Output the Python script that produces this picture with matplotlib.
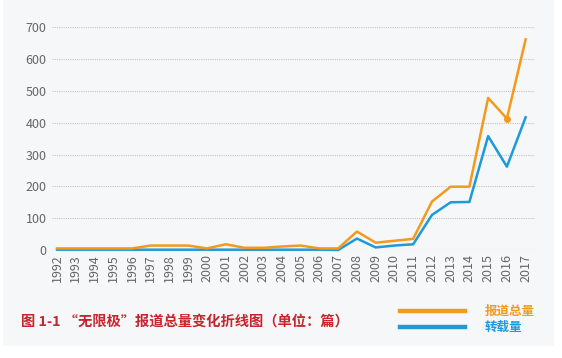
import matplotlib
matplotlib.use("Agg")
import matplotlib.pyplot as plt
from matplotlib.patches import Rectangle
from matplotlib.lines import Line2D

plt.rcParams['font.family'] = ['Noto Sans CJK SC', 'DejaVu Sans']

years = list(range(1992, 2018))
total = [5, 5, 5, 5, 5, 14, 14, 14, 5, 18, 7, 7, 11, 14, 5, 5, 58, 23, 29, 35, 152, 199, 199, 478, 413, 662]
reprint = [1, 1, 1, 1, 1, 1, 1, 1, 1, 1, 1, 1, 1, 1, 1, 0, 36, 8, 14, 18, 110, 150, 151, 358, 262, 417]
yticks = [0, 100, 200, 300, 400, 500, 600, 700]
title = "图 1-1 “无限极”报道总量变化折线图（单位：篇）"
labels = ["报道总量", "转载量"]

orange = "#f39a1e"
blue = "#1c9ad9"
red = "#c7242d"
gray = "#666666"

fig = plt.figure(figsize=(5.62, 3.58), dpi=100)
fig.patch.set_facecolor("white")
fig.patches.append(Rectangle((3/562, 12/358), 551/562, 346/358, transform=fig.transFigure,
                             facecolor="#f6f7f8", edgecolor="none", zorder=-10))

ax = fig.add_axes([52/562, 1-250/358, 483/562, 222.7/358])
ax.set_facecolor("none")
ax.plot(years, total, color=orange, lw=1.8, clip_on=False, zorder=3)
ax.plot(years, reprint, color=blue, lw=1.8, clip_on=False, zorder=2)
ax.plot([years[-2]], [total[-2]], 'o', color=orange, ms=4, zorder=4)

ax.set_xlim(1991.73, 2017.5)
ax.set_ylim(0, 700)
ax.set_yticks(yticks)
ax.set_xticks(years)
ax.set_xticklabels([str(y) for y in years], rotation=90)
for s in ax.spines.values():
    s.set_visible(False)
ax.grid(axis='y', color="#c4c4c4", linestyle=(0, (1, 1)), lw=0.8)
ax.grid(axis='x', visible=False)
ax.tick_params(length=0, colors=gray, labelsize=9, pad=4)
ax.tick_params(axis='x', pad=3)

fig.text(21/562, 1-322/358, title, color=red, fontsize=10.3, fontweight='bold', va='center', ha='left')

fig.lines.append(Line2D([400/562, 465/562], [1-311/358, 1-311/358], transform=fig.transFigure, color=orange, lw=3.2))
fig.lines.append(Line2D([400/562, 465/562], [1-327/358, 1-327/358], transform=fig.transFigure, color=blue, lw=3.2))
fig.text(485/562, 1-311/358, labels[0], color=orange, fontsize=9, fontweight='bold', va='center', ha='left')
fig.text(485/562, 1-327/358, labels[1], color=blue, fontsize=9, fontweight='bold', va='center', ha='left')

fig.savefig("out.png", dpi=100)
